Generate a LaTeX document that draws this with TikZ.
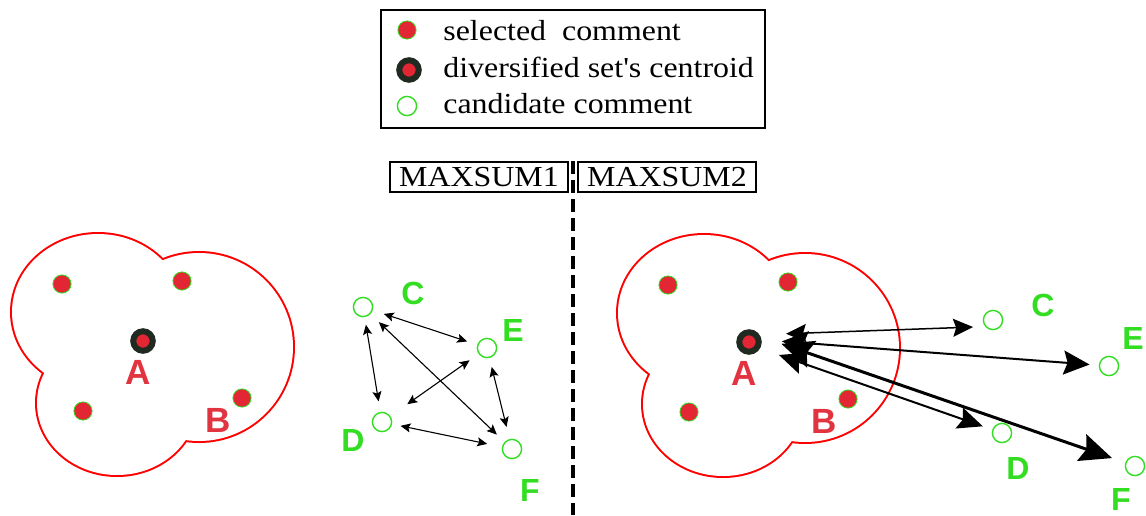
\documentclass[tikz,border=0pt]{standalone}
\usepackage{fontspec}
\setmainfont{Liberation Serif}
\newfontfamily\lettersf{Liberation Sans}
\usepackage{graphicx}
\usepackage{tikz}
\usetikzlibrary{arrows.meta}
\definecolor{dotred}{RGB}{227,38,52}
\definecolor{labelred}{RGB}{226,52,64}
\definecolor{candgreen}{RGB}{51,221,34}
\definecolor{darkring}{RGB}{32,42,32}
\definecolor{cloudred}{RGB}{255,0,0}
\tikzstyle{selected}=[circle, fill=dotred, draw=candgreen, line width=.4pt, minimum size=9.1pt, inner sep=0pt]
\tikzstyle{centroid}=[circle, fill=dotred, draw=darkring, line width=3pt, minimum size=9.75pt, inner sep=0pt]
\tikzstyle{candidate}=[circle, fill=white, draw=candgreen, line width=.7pt, minimum size=9.6pt, inner sep=0pt]
\tikzstyle{cloudline}=[draw=cloudred, line width=2pt]
\tikzstyle{redletter}=[text=labelred, inner sep=0pt, font=\lettersf\bfseries\fontsize{17.5}{20}\selectfont]
\tikzstyle{greenletter}=[text=candgreen, inner sep=0pt, font=\lettersf\bfseries\fontsize{16}{19}\selectfont]
\tikzstyle{legendtext}=[inner sep=0pt, anchor=base west, font=\fontsize{14.5}{17}\selectfont]
\tikzstyle{modebox}=[draw, line width=.65pt, minimum width=89pt, minimum height=15pt, inner sep=0pt, font=\fontsize{14.5}{17}\selectfont]
\tikzstyle{pairarrow}=[{Stealth[length=5pt,width=4.5pt,inset=1pt]}-{Stealth[length=5pt,width=4.5pt,inset=1pt]}, line width=.55pt]
\tikzstyle{divider}=[line width=2pt, dash pattern=on 6.5pt off 3pt]
\newcommand{\wide}[1]{\scalebox{1.1}[1]{#1}}
\newcommand{\divcloud}[2]{
	\begin{scope}[shift={#1}]
	\draw[cloudline] (98,312) ellipse (86 and 78);
	\draw[cloudline] (199,347) circle (94);
	\draw[cloudline] (117,403) ellipse (80 and 72);
	\fill[white] (98,312) ellipse (86 and 78) (199,347) circle (94) (117,403) ellipse (80 and 72);
	\node[selected] (sel#2a) at (62,284) {};
	\node[selected] (sel#2b) at (182,281) {};
	\node[selected] (sel#2c) at (83,411) {};
	\node[selected] (sel#2d) at (242,398) {};
	\node[centroid] (cen#2) at (143,341) {};
	\node[redletter] (A#2) at (138,372) {A};
	\node[redletter] (B#2) at (218,420) {B};
	\end{scope}
}
\newcommand{\distarrow}[8]{
	\draw[line width=#3, {Stealth[length=#4,width=#5,inset=#8]}-{Stealth[length=#4,width=#5,inset=#8]}, shorten <=#6, shorten >=#7] (#1) -- (#2);
}
\begin{document}
\begin{tikzpicture}[x=.5pt, y=-.5pt]
	\useasboundingbox (0,0) rectangle (1146,515);
	% legend
	\node[draw, line width=1pt, minimum width=192pt, minimum height=59pt, inner sep=0pt] (legend) at (573,69) {};
	\node[selected] (legsel) at (407,30) {};
	\node[centroid] (legcen) at (409,70) {};
	\node[candidate] (legcand) at (407,106) {};
	\node[legendtext] (legtxt1) at (443,40) {\wide{selected\ \ comment}};
	\node[legendtext] (legtxt2) at (443,77) {\wide{diversified set\textquotesingle s centroid}};
	\node[legendtext] (legtxt3) at (443,113) {\wide{candidate comment}};
	% the two cases
	\node[modebox] (ms1) at (479,177) {\wide{MAXSUM1}};
	\node[modebox] (ms2) at (667,177) {\wide{MAXSUM2}};
	\coordinate (divtop) at (573,161);
	\coordinate (divbot) at (573,515);
	\draw[divider] (divtop) -- (divbot);
	\divcloud{(0,0)}{1}
	\divcloud{(606,1)}{2}
	% MAXSUM1 candidates
	\node[candidate] (C1) at (363,307) {};
	\node[candidate] (E1) at (487,348) {};
	\node[candidate] (D1) at (382,422) {};
	\node[candidate] (F1) at (512,449) {};
	\node[greenletter] (lC1) at (413,293) {C};
	\node[greenletter] (lE1) at (513,330) {E};
	\node[greenletter] (lD1) at (353,440) {D};
	\node[greenletter] (lF1) at (530,490) {F};
	\draw[pairarrow, shorten <=5.8pt, shorten >=5.3pt] (C1) -- (E1);
	\draw[pairarrow, shorten <=3.8pt, shorten >=5.3pt] (C1) -- (D1);
	\draw[pairarrow, shorten <=5.8pt, shorten >=5.3pt] (C1) -- (F1);
	\draw[pairarrow, shorten <=5.5pt, shorten >=10.3pt] (E1) -- (D1);
	\draw[pairarrow, shorten <=4.6pt, shorten >=6.2pt] (E1) -- (F1);
	\draw[pairarrow, shorten <=4.3pt, shorten >=7.5pt] (D1) -- (F1);
	% MAXSUM2 candidates
	\node[candidate] (C2) at (993,320) {};
	\node[candidate] (E2) at (1109,366) {};
	\node[candidate] (D2) at (1002,433) {};
	\node[candidate] (F2) at (1135,466) {};
	\node[greenletter] (lC2) at (1043,305) {C};
	\node[greenletter] (lE2) at (1133,338) {E};
	\node[greenletter] (lD2) at (1018,468) {D};
	\node[greenletter] (lF2) at (1121,499) {F};
	\distarrow{cen2.35}{C2.220}{.75pt}{10pt}{9pt}{13.3pt}{6pt}{1.5pt}
	\distarrow{cen2.10}{E2}{1pt}{13pt}{12pt}{10.2pt}{4.6pt}{2pt}
	\distarrow{cen2.-30}{D2}{1pt}{12.5pt}{11pt}{10pt}{5pt}{2pt}
	\distarrow{cen2.25}{F2}{1.5pt}{16pt}{14pt}{11pt}{7pt}{2.5pt}
\end{tikzpicture}
\end{document}
